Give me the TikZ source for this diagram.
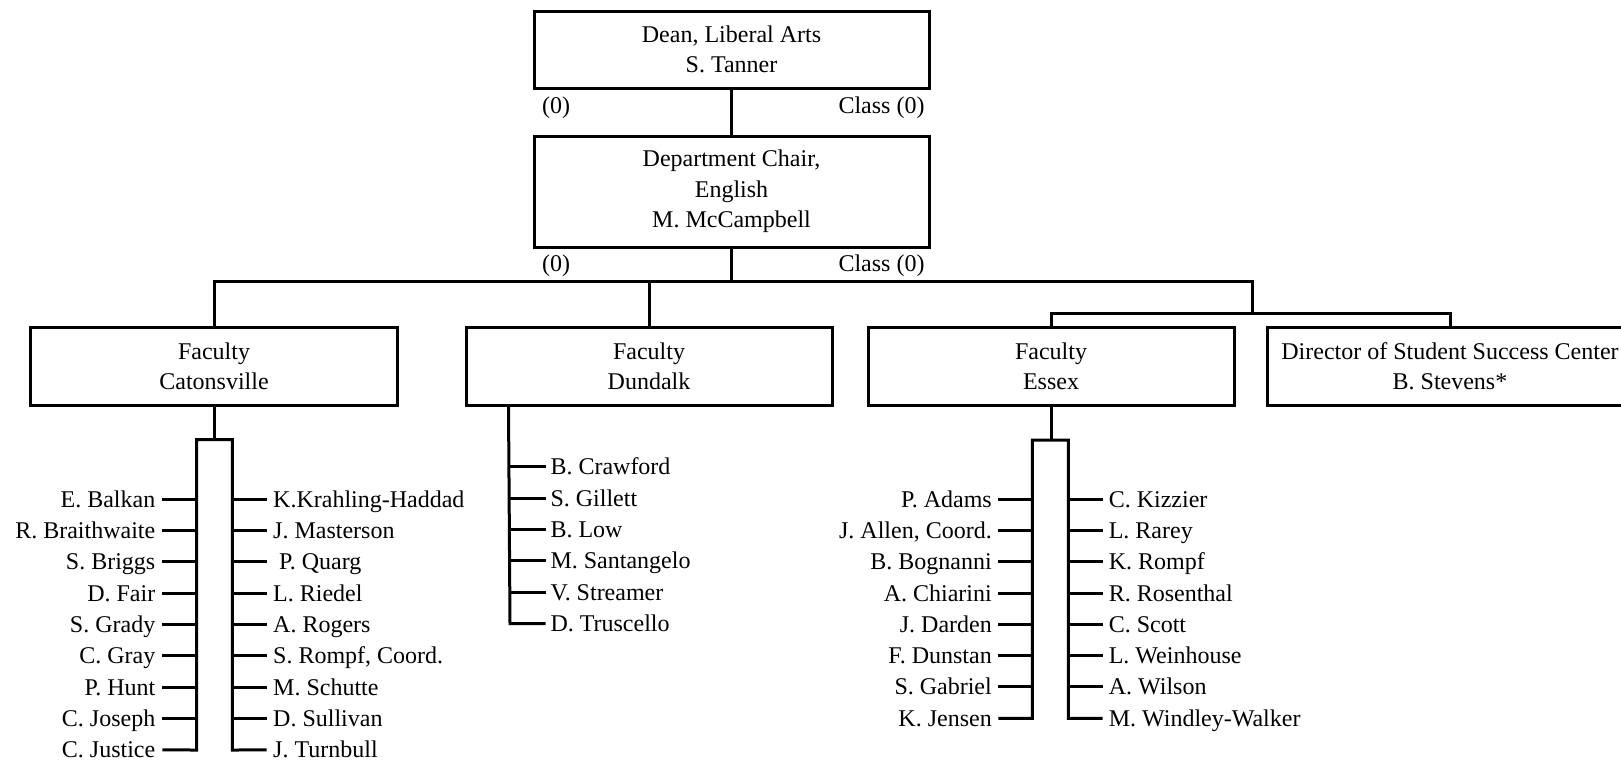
\documentclass[tikz,border=0pt]{standalone}
\usepackage{fontspec}
\setmainfont{Liberation Serif}
\begin{document}
\begin{tikzpicture}[x=0.5pt,y=-0.5pt,line width=1.5pt,line join=miter,
  box/.style={draw,line width=1.5pt,align=center,inner sep=0pt,font=\fontsize{12}{15.2}\selectfont},
  lbl/.style={inner sep=0pt,font=\fontsize{12}{15}\selectfont},
  nm/.style={inner ysep=0pt,text height=7.9pt,text depth=0pt,font=\fontsize{12}{15}\selectfont},
  lname/.style={nm,anchor=east,inner xsep=2.75pt},
  rname/.style={nm,anchor=west,inner xsep=2.5pt}]
\useasboundingbox (0,0) rectangle (1621,760);
\clip (0,0) rectangle (1621,760);

% boxes
\node[box,minimum width=197.5pt,minimum height=38.5pt] (dean) at (731.5,49.5) {Dean, Liberal Arts\\S. Tanner};
\node[box,minimum width=197.5pt,minimum height=55.5pt] (chair) at (731.5,191.5) {Department Chair,\\English\\M. McCampbell};
\node[box,minimum width=183.5pt,minimum height=39pt] (cat) at (214,366) {Faculty\\Catonsville};
\node[box,minimum width=183pt,minimum height=39pt] (dun) at (649,366) {Faculty\\Dundalk};
\node[box,minimum width=183pt,minimum height=39pt] (ess) at (1051,366) {Faculty\\Essex};
\node[box,minimum width=183pt,minimum height=39pt] (dir) at (1450,366) {Director of Student Success Center\\B. Stevens*};

% labels
\node[lbl,anchor=west] (l1) at (540.5,108) {(0)};
\node[lbl,anchor=east] (r1) at (926,108) {Class (0)};
\node[lbl,anchor=west] (l2) at (540.5,265.5) {(0)};
\node[lbl,anchor=east] (r2) at (926,265.5) {Class (0)};

% top connectors
\coordinate (j) at (731.5,281);
\coordinate (je) at (1252,281);
\coordinate (js) at (1252,313.5);
\draw (dean.south) -- (chair.north);
\draw (chair.south) -- (j);
\draw (cat.north) |- (je) -- (js);
\draw (dun.north) -- (dun.north |- j);
\draw (ess.north) |- (dir.north |- js) -- (dir.north);

% Catonsville
\coordinate (ct) at (214,439.5);
\draw (cat.south) -- (ct);
\foreach \n [count=\i from 0] in {E. Balkan,R. Braithwaite,S. Briggs,D. Fair,S. Grady,C. Gray,P. Hunt,C. Joseph,C. Justice}{
  \node[lname] (cl\i) at (162.3,499.3+31.33*\i) {\n};
}
\foreach \n [count=\i from 0] in {K.Krahling-Haddad,J. Masterson,\ P. Quarg,L. Riedel,A. Rogers,{S. Rompf, Coord.},M. Schutte,D. Sullivan,J. Turnbull}{
  \node[rname] (cr\i) at (266.7,499.3+31.33*\i) {\n};
}
\foreach \i in {0,...,7}{
  \draw (cl\i.east) -- (196.7,499.3+31.33*\i);
  \draw (cr\i.west) -- (232.3,499.3+31.33*\i);
}
\draw (cl8.east) -- (196.7,750) -- (196.7,439.5) -- (232.3,439.5) -- (232.3,750) -- (cr8.west);

% Dundalk
\foreach \n [count=\i from 0] in {B. Crawford,S. Gillett,B. Low,M. Santangelo,V. Streamer,D. Truscello}{
  \node[rname,inner xsep=1.75pt] (dn\i) at (545.5,466.7+31.4*\i) {\n};
}
\foreach \i in {0,...,4}{
  \draw (dn\i.west) -- (510,466.7+31.4*\i);
}
\draw ([xshift=22pt]dun.south west) -- (510,623.7) -- (dn5.west);

% Essex
\coordinate (et) at (1051,440);
\draw (ess.south) -- (et);
\foreach \n [count=\i from 0] in {P. Adams,{J. Allen, Coord.},B. Bognanni,A. Chiarini,J. Darden,F. Dunstan,S. Gabriel,K. Jensen}{
  \node[lname,inner xsep=2.5pt] (el\i) at (998.3,499.3+31.28*\i) {\n};
}
\foreach \n [count=\i from 0] in {C. Kizzier,L. Rarey,K. Rompf,R. Rosenthal,C. Scott,L. Weinhouse,A. Wilson,M. Windley-Walker}{
  \node[rname,inner xsep=2.3pt] (er\i) at (1102.7,499.3+31.28*\i) {\n};
}
\foreach \i in {0,...,6}{
  \draw (el\i.east) -- (1032.3,499.3+31.28*\i);
  \draw (er\i.west) -- (1068.3,499.3+31.28*\i);
}
\draw (el7.east) -- (1032.3,718.3) -- (1032.3,440) -- (1068.3,440) -- (1068.3,718.3) -- (er7.west);
\end{tikzpicture}
\end{document}
